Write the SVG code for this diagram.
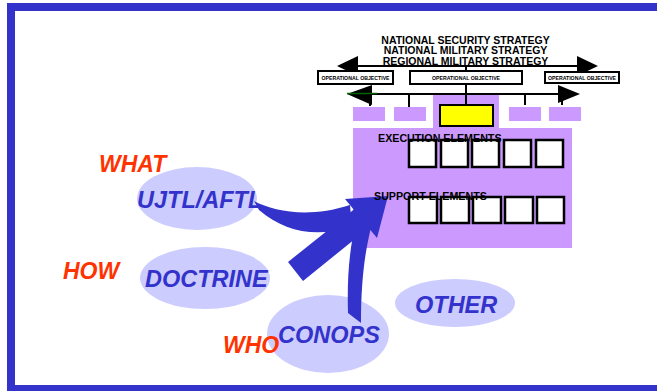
<svg xmlns="http://www.w3.org/2000/svg" width="657" height="391" viewBox="0 0 657 391">
<style>
.title{font-family:"Liberation Sans",Arial,sans-serif;font-weight:bold;font-size:10.5px;fill:#000;text-anchor:middle}
.obj{font-family:"Liberation Sans",Arial,sans-serif;font-weight:bold;font-size:5.2px;fill:#000;text-anchor:middle}
.elem{font-family:"Liberation Sans",Arial,sans-serif;font-weight:bold;font-size:10.7px;fill:#000}
.big{font-family:"Liberation Sans",Arial,sans-serif;font-weight:bold;font-style:italic;font-size:23.5px;fill:#3333CC}
.q{font-family:"Liberation Sans",Arial,sans-serif;font-weight:bold;font-style:italic;font-size:23px;fill:#FF3300}
.ell{fill:#CCCCFF}
.box{fill:#fff;stroke:#000;stroke-width:2}
.sq{fill:#fff;stroke:#000;stroke-width:2.5}
.pp{fill:#CC99FF}
.ln{stroke:#000;stroke-width:2;fill:none}
.ar{fill:#3333CC}
</style>
<rect x="11" y="7" width="660" height="382" fill="#fff" stroke="#3333CC" stroke-width="8"/>

<g id="strategy">
  <text class="title" x="465.5" y="43.5">NATIONAL SECURITY STRATEGY</text>
  <text class="title" x="465.5" y="54">NATIONAL MILITARY STRATEGY</text>
  <text class="title" x="465.5" y="64.5">REGIONAL MILITARY STRATEGY</text>
</g>

<g id="purple-area">
  <rect class="pp" x="433" y="95" width="66" height="34"/>
  <rect class="pp" x="353" y="128" width="219" height="120"/>
  <rect class="pp" x="353" y="107" width="32" height="14"/>
  <rect class="pp" x="394" y="107" width="32" height="14"/>
  <rect class="pp" x="509" y="107" width="32" height="14"/>
  <rect class="pp" x="549" y="107" width="32" height="14"/>
</g>

<g id="connectors">
  <line class="ln" x1="355" y1="66" x2="580" y2="66"/>
  <polygon points="337,66 358,56 358,76" fill="#000"/>
  <polygon points="598,66 577,56 577,76" fill="#000"/>
  <line class="ln" x1="466" y1="66" x2="466" y2="71"/>
  <line class="ln" x1="366" y1="94" x2="562" y2="94"/>
  <polygon points="347,94 372,85 372,105" fill="#000"/>
  <line x1="347" y1="93.5" x2="377" y2="93.5" stroke="#006600" stroke-width="1.5"/>
  <polygon points="580,94 558,85 558,103" fill="#000"/>
  <line class="ln" x1="466" y1="84" x2="466" y2="104"/>
  <line class="ln" x1="370" y1="94" x2="370" y2="106"/>
  <line class="ln" x1="409" y1="94" x2="409" y2="107"/>
  <line class="ln" x1="525" y1="94" x2="525" y2="105"/>
  <line class="ln" x1="562" y1="94" x2="562" y2="105"/>
</g>

<g id="objectives">
  <rect class="box" x="318" y="71" width="75" height="13"/>
  <text class="obj" x="355.5" y="79.5">OPERATIONAL OBJECTIVE</text>
  <rect class="box" x="410" y="71" width="112" height="13"/>
  <text class="obj" x="466" y="79.5">OPERATIONAL OBJECTIVE</text>
  <rect class="box" x="545" y="72" width="74" height="11"/>
  <text class="obj" x="582" y="79.5">OPERATIONAL OBJECTIVE</text>
</g>

<g id="yellow-box">
  <rect x="440" y="105" width="53" height="21" fill="#FFFF00" stroke="#000" stroke-width="2"/>
</g>

<g id="execution-elements">
  <rect class="sq" x="409" y="140" width="27" height="27"/>
  <rect class="sq" x="441" y="140" width="27" height="27"/>
  <rect class="sq" x="472" y="140" width="27" height="27"/>
  <rect class="sq" x="504" y="140" width="27" height="27"/>
  <rect class="sq" x="536" y="140" width="27" height="27"/>
  <text class="elem" x="378" y="142">EXECUTION ELEMENTS</text>
</g>

<g id="support-elements">
  <rect class="sq" x="409" y="197" width="28" height="26"/>
  <rect class="sq" x="441" y="197" width="28" height="26"/>
  <rect class="sq" x="473" y="197" width="28" height="26"/>
  <rect class="sq" x="505" y="197" width="28" height="26"/>
  <rect class="sq" x="537" y="197" width="27" height="26"/>
</g>

<g id="ujtl">
  <ellipse class="ell" cx="197" cy="198.5" rx="60" ry="31.5"/>
  <text class="big" x="137" y="208">UJTL/AFTL</text>
</g>
<g id="doctrine">
  <ellipse class="ell" cx="205" cy="278" rx="65" ry="31"/>
  <text class="big" x="145" y="287">DOCTRINE</text>
</g>
<g id="conops">
  <ellipse class="ell" cx="328" cy="334" rx="61" ry="39"/>
  <text class="big" x="278" y="343">CONOPS</text>
</g>
<g id="other">
  <ellipse class="ell" cx="455" cy="303" rx="60" ry="24"/>
  <text class="big" x="415" y="313">OTHER</text>
</g>

<g id="labels">
  <text class="q" x="99" y="172">WHAT</text>
  <text class="q" x="63" y="279">HOW</text>
  <text class="q" x="223" y="353">WHO</text>
</g>

<g id="arrows">
  <path class="ar" d="M254,201 C275,212 310,218 350,205 L352,227 C315,238 285,232 259,210 Z"/>
  <polygon class="ar" points="288,262 303,281 371,226 357,207"/>
  <path class="ar" d="M348,313 C347,280 349,250 356,222 L372,224 C365,250 361,280 361,323 Z"/>
  <polygon class="ar" points="345,199 388,196 377,238"/>
</g>

<text class="elem" x="374" y="200">SUPPORT ELEMENTS</text>
</svg>
